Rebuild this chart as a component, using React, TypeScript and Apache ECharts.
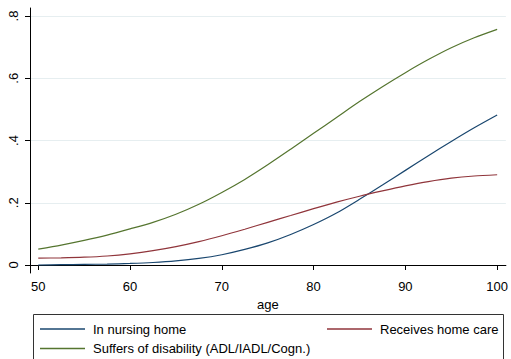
import React, { useEffect, useRef } from "react";
import * as echarts from "echarts";

const ages = [50, 52.5, 55, 57.5, 60, 62.5, 65, 67.5, 70, 72.5, 75, 77.5, 80, 82.5, 85, 87.5, 90, 92.5, 95, 97.5, 100];
const nursingHome = [0.0, 0.001, 0.002, 0.003, 0.005, 0.008, 0.013, 0.021, 0.033, 0.05, 0.071, 0.098, 0.13, 0.167, 0.211, 0.257, 0.304, 0.351, 0.397, 0.441, 0.482];
const homeCare = [0.022, 0.023, 0.025, 0.029, 0.036, 0.046, 0.059, 0.075, 0.094, 0.115, 0.137, 0.159, 0.181, 0.202, 0.221, 0.238, 0.254, 0.268, 0.279, 0.286, 0.29];
const disability = [0.051, 0.064, 0.079, 0.096, 0.116, 0.137, 0.163, 0.195, 0.233, 0.275, 0.322, 0.372, 0.423, 0.474, 0.525, 0.573, 0.618, 0.66, 0.698, 0.73, 0.757];

const yTicks = [0, 0.2, 0.4, 0.6, 0.8];
const yTickLabels = ["0", ".2", ".4", ".6", ".8"];
const xTicks = [50, 60, 70, 80, 90, 100];

const seriesNames = ["In nursing home", "Receives home care", "Suffers of disability (ADL/IADL/Cogn.)"];
const seriesColors = ["#1a476f", "#90353b", "#55752f"];
const seriesValues = [nursingHome, homeCare, disability];

const FONT = "Liberation Sans, Arial, Helvetica, sans-serif";

const legendBase = {
  orient: "horizontal",
  icon: "rect",
  padding: 0,
  itemWidth: 45,
  itemHeight: 1.3,
  textStyle: { fontSize: 13, color: "#000", fontFamily: FONT, lineHeight: 15, padding: [0, 0, 0, 3] },
};

export default function App() {
  const ref = useRef<HTMLDivElement>(null);
  useEffect(() => {
    if (!ref.current) return;
    const chart = echarts.init(ref.current, undefined, { renderer: "svg" });
    chart.setOption({
      animation: false,
      backgroundColor: "#ffffff",
      textStyle: { fontFamily: FONT },
      grid: { left: 30, right: 4, top: 8, bottom: 86, containLabel: false },
      xAxis: {
        type: "value",
        min: 49.1,
        max: 100.95,
        name: "age",
        nameLocation: "middle",
        nameGap: 22,
        nameTextStyle: { fontSize: 13, color: "#000", fontFamily: FONT },
        axisLine: { show: true, lineStyle: { color: "#000", width: 1 } },
        axisTick: { show: true, length: 5, lineStyle: { color: "#000" }, customValues: xTicks },
        axisLabel: { customValues: xTicks, fontSize: 13, color: "#000", margin: 7, fontFamily: FONT },
        splitLine: { show: false },
      },
      yAxis: {
        type: "value",
        min: -0.0257,
        max: 0.8257,
        axisLine: { show: true, lineStyle: { color: "#000", width: 1 } },
        axisTick: { show: true, length: 5, lineStyle: { color: "#000" }, customValues: yTicks },
        axisLabel: {
          customValues: yTicks,
          rotate: 90,
          fontSize: 13,
          color: "#000",
          margin: 10,
          fontFamily: FONT,
          formatter: (v: number) => {
            const i = yTicks.findIndex((t) => Math.abs(t - v) < 1e-6);
            return i >= 0 ? yTickLabels[i] : "";
          },
        },
        splitLine: { show: true, lineStyle: { color: "#e6eef0", width: 1 } },
      },
      legend: [
        { ...legendBase, left: 40, top: 321.5, data: [seriesNames[0]] },
        { ...legendBase, left: 327, top: 321.5, data: [seriesNames[1]] },
        { ...legendBase, left: 40, top: 341, data: [seriesNames[2]] },
      ],
      graphic: [
        {
          type: "rect",
          shape: { x: 33.5, y: 314.5, width: 470, height: 80 },
          style: { fill: "none", stroke: "#333", lineWidth: 1 },
          silent: true,
        },
      ],
      series: seriesNames.map((name, k) => ({
        name,
        type: "line",
        data: ages.map((a, i) => [a, seriesValues[k][i]]),
        smooth: 0.25,
        symbol: "none",
        lineStyle: { color: seriesColors[k], width: 1.2 },
        itemStyle: { color: seriesColors[k] },
      })),
    });
    return () => chart.dispose();
  }, []);
  return <div ref={ref} style={{ width: 511, height: 359, position: "absolute", left: 0, top: 0 }} />;
}
